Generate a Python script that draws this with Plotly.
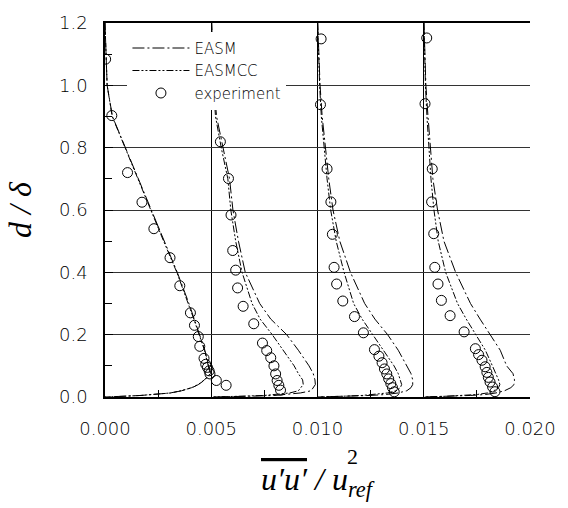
import plotly.graph_objects as go

# station offsets of the four profiles (x-axis shift)
offsets = [0.0, 0.005, 0.010, 0.015]

# model curves: wall distance d/delta
y_model = [1.2, 1.1, 1.0, 0.9, 0.8, 0.7, 0.6, 0.5, 0.4, 0.3, 0.25, 0.2, 0.15, 0.1,
           0.075, 0.055, 0.04, 0.03, 0.02, 0.013, 0.008, 0.005, 0.0025, 0.0]

# EASM  u'u'/uref^2 (relative to station offset)
easm_1 = [0.0, 0.00004, 0.0001, 0.00035, 0.00096, 0.00157, 0.00217, 0.00278, 0.0034, 0.00395,
          0.0042, 0.00445, 0.0047, 0.00488, 0.00497, 0.0047, 0.0044, 0.0041, 0.0036, 0.0031,
          0.0024, 0.0017, 0.0009, 0.0]
easm_2 = [0.00002, 0.00006, 0.00012, 0.00025, 0.00055, 0.00086, 0.00102, 0.00128, 0.0016, 0.00228,
          0.0028, 0.00355, 0.0041, 0.0046, 0.0048, 0.00488, 0.0049, 0.0048, 0.0047, 0.0042,
          0.0036, 0.003, 0.0018, 0.0]
easm_3 = [0.00001, 0.00005, 0.00012, 0.00022, 0.00036, 0.00053, 0.00073, 0.00105, 0.00155, 0.00222,
          0.0027, 0.0033, 0.0038, 0.0042, 0.0044, 0.00448, 0.00448, 0.0044, 0.0042, 0.0038,
          0.0032, 0.0025, 0.0014, 0.0]
easm_4 = [0.00001, 0.00005, 0.0001, 0.0002, 0.0003, 0.00043, 0.00065, 0.00095, 0.0015, 0.0022,
          0.00265, 0.00312, 0.0036, 0.0039, 0.0042, 0.00427, 0.00425, 0.0041, 0.0038, 0.0034,
          0.0029, 0.0022, 0.0013, 0.0]

# EASMCC
easmcc_1 = [0.0, 0.00004, 0.0001, 0.00034, 0.00094, 0.00155, 0.00215, 0.00276, 0.00338, 0.00393,
            0.00418, 0.00443, 0.00468, 0.00486, 0.00495, 0.00468, 0.00438, 0.00408, 0.00358, 0.00308,
            0.00238, 0.00168, 0.00089, 0.0]
easmcc_2 = [0.00002, 0.00005, 0.0001, 0.0002, 0.00047, 0.00078, 0.00092, 0.00115, 0.00145, 0.00192,
            0.0023, 0.00287, 0.0034, 0.0039, 0.0041, 0.0043, 0.00433, 0.0042, 0.0041, 0.0037,
            0.0031, 0.0025, 0.0014, 0.0]
easmcc_3 = [0.00001, 0.00004, 0.0001, 0.00018, 0.0003, 0.00045, 0.00062, 0.00088, 0.00125, 0.0017,
            0.0021, 0.0026, 0.0031, 0.0036, 0.0038, 0.0039, 0.00396, 0.0039, 0.0037, 0.0033,
            0.0027, 0.0021, 0.0012, 0.0]
easmcc_4 = [0.00001, 0.00004, 0.00008, 0.00015, 0.00024, 0.00034, 0.00048, 0.00068, 0.00103, 0.00159,
            0.002, 0.00243, 0.0029, 0.00323, 0.0034, 0.00352, 0.00358, 0.00352, 0.0033, 0.003,
            0.0025, 0.0019, 0.0011, 0.0]

# experiment (relative to station offset)
exp_y_1 = [1.084, 0.903, 0.72, 0.625, 0.54, 0.447, 0.357, 0.270, 0.230, 0.194, 0.1625, 0.124,
           0.105, 0.095, 0.084, 0.074, 0.053, 0.0375]
exp_x_1 = [0.00003, 0.00032, 0.00106, 0.00174, 0.0023, 0.00306, 0.00352, 0.00402, 0.00421, 0.00439,
           0.00446, 0.00466, 0.00474, 0.00482, 0.0049, 0.00494, 0.00524, 0.0057]
exp_y_2 = [0.819, 0.701, 0.584, 0.470, 0.407, 0.350, 0.291, 0.235, 0.173, 0.149, 0.126, 0.100,
           0.074, 0.053, 0.0375, 0.022]
exp_x_2 = [0.00043, 0.00081, 0.00093, 0.00101, 0.00115, 0.00124, 0.0015, 0.002, 0.00241, 0.00261,
           0.0028, 0.00295, 0.00303, 0.0031, 0.00318, 0.00326]
exp_y_3 = [1.149, 0.938, 0.732, 0.626, 0.522, 0.416, 0.3625, 0.308, 0.258, 0.206, 0.152, 0.131,
           0.110, 0.090, 0.074, 0.058, 0.043, 0.030, 0.0166]
exp_x_3 = [0.00017, 0.00014, 0.00045, 0.00063, 0.0007, 0.00078, 0.0009, 0.00119, 0.00174, 0.00216,
           0.00268, 0.00289, 0.00304, 0.00315, 0.00326, 0.00335, 0.00345, 0.00353, 0.00361]
exp_y_4 = [1.152, 0.941, 0.732, 0.626, 0.524, 0.416, 0.3625, 0.310, 0.261, 0.209, 0.155, 0.136,
           0.118, 0.097, 0.079, 0.063, 0.048, 0.032, 0.017]
exp_x_4 = [0.00014, 0.00006, 0.0004, 0.00037, 0.00047, 0.00052, 0.00067, 0.00083, 0.00124, 0.0019,
           0.00243, 0.00258, 0.00274, 0.00289, 0.00297, 0.00304, 0.00312, 0.00324, 0.00335]

x_ticks = [0.0, 0.005, 0.010, 0.015, 0.020]
x_ticklabels = ["0.000", "0.005", "0.010", "0.015", "0.020"]
y_ticks = [0.0, 0.2, 0.4, 0.6, 0.8, 1.0, 1.2]
y_ticklabels = ["0.0", "0.2", "0.4", "0.6", "0.8", "1.0", "1.2"]

easm_all = [easm_1, easm_2, easm_3, easm_4]
easmcc_all = [easmcc_1, easmcc_2, easmcc_3, easmcc_4]
exp_x_all = [exp_x_1, exp_x_2, exp_x_3, exp_x_4]
exp_y_all = [exp_y_1, exp_y_2, exp_y_3, exp_y_4]

TICKFONT = dict(family="DejaVu Sans", size=18, color="black", weight=200)
TITLEFONT = dict(family="Liberation Serif", size=32, color="black", style="italic", weight="normal")

fig = go.Figure()
for i, off in enumerate(offsets):
    fig.add_trace(go.Scatter(
        x=[off + v for v in easm_all[i]], y=y_model, mode="lines", name="EASM",
        showlegend=(i == 0),
        line=dict(color="black", width=1, dash="12px,3px,2px,3px")))
for i, off in enumerate(offsets):
    fig.add_trace(go.Scatter(
        x=[off + v for v in easmcc_all[i]], y=y_model, mode="lines", name="EASMCC",
        showlegend=(i == 0),
        line=dict(color="black", width=1, dash="7px,2px,2px,2px,2px,2px")))
for i, off in enumerate(offsets):
    fig.add_trace(go.Scatter(
        x=[off + v for v in exp_x_all[i]], y=exp_y_all[i], mode="markers", name="experiment",
        showlegend=(i == 0),
        marker=dict(symbol="circle-open", size=10, color="black", line=dict(width=1, color="black"))))

fig.update_layout(
    width=568, height=508,
    margin=dict(l=105, r=27, t=13, b=111),
    paper_bgcolor="white", plot_bgcolor="white",
    showlegend=True,
    legend=dict(x=0.0528, y=0.9766, xanchor="left", yanchor="top", bgcolor="white",
                borderwidth=0, font=dict(family="DejaVu Sans", size=15, color="black", weight=200),
                tracegroupgap=0, itemwidth=57),
    xaxis=dict(range=[0, 0.02], tickvals=x_ticks, ticktext=x_ticklabels, tickfont=TICKFONT,
               showgrid=True, gridcolor="black", gridwidth=1, zeroline=False,
               showline=True, linecolor="black", linewidth=1.5, mirror=True,
               ticks="inside", ticklen=8, tickcolor="black", ticklabelstandoff=15,
               minor=dict(dtick=0.0025, ticks="inside", ticklen=7, tickcolor="black", showgrid=False)),
    yaxis=dict(range=[0, 1.2], tickvals=y_ticks, ticktext=y_ticklabels, tickfont=TICKFONT,
               showgrid=True, gridcolor="#333333", gridwidth=1, zeroline=False,
               showline=True, linecolor="black", linewidth=1.5,
               ticks="inside", ticklen=8, tickcolor="black", ticklabelstandoff=12,
               minor=dict(dtick=0.1, ticks="inside", ticklen=7, tickcolor="black", showgrid=False)),
    annotations=[
        dict(text="d / δ", xref="paper", yref="paper", x=-0.2, y=0.5, xanchor="center",
             yanchor="middle", textangle=-90, showarrow=False, font=TITLEFONT),
        dict(text="<span style='text-decoration:overline;text-decoration-thickness:1px'>u′u′</span> / u<sub>ref</sub>",
             xref="paper", yref="paper", x=0.5, y=-0.167, xanchor="center", yanchor="top",
             showarrow=False, font=TITLEFONT),
        dict(text="2", xref="paper", yref="paper", x=0.582, y=-0.158, xanchor="center",
             yanchor="middle", showarrow=False,
             font=dict(family="Liberation Serif", size=22, color="black")),
    ],
)

fig.write_html("out.html")
